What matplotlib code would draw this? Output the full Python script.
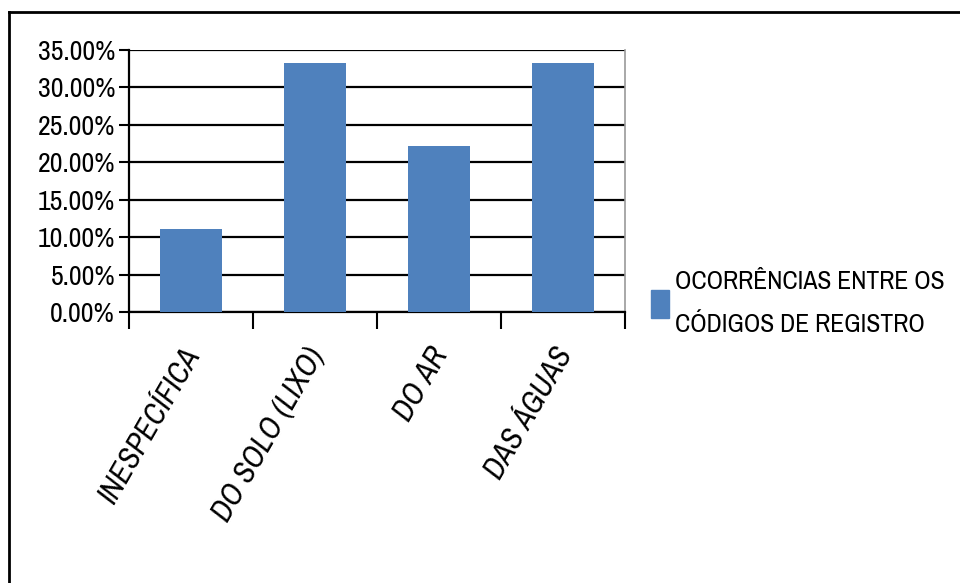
import matplotlib.pyplot as plt
import matplotlib.font_manager as fm
import matplotlib.transforms as mtransforms
from matplotlib.lines import Line2D
from matplotlib.patches import Patch

categories = ["INESPECÍFICA", "DO SOLO (LIXO)", "DO AR", "DAS ÁGUAS"]
values = [11.11, 33.33, 22.22, 33.33]
y_ticks = [0, 5, 10, 15, 20, 25, 30, 35]
series_name = "OCORRÊNCIAS ENTRE OS\nCÓDIGOS DE REGISTRO"

# look for a condensed face, the original uses a narrow font
narrow = sorted({f.name for f in fm.fontManager.ttflist
                 if str(f.stretch) in ("condensed", "semi-condensed", "extra-condensed")
                 or "Narrow" in f.name or "Condensed" in f.name})
stretch = "condensed" if narrow else "normal"
plt.rcParams["font.family"] = narrow + ["Roboto", "DejaVu Sans"]
plt.rcParams["font.stretch"] = stretch

bar_color = "#4F81BD"

fig = plt.figure(figsize=(9.6, 5.83), dpi=100)
ax = fig.add_axes([129 / 960, 1 - 312 / 583, 496 / 960, 262 / 583])

x = [i + 0.5 for i in range(len(categories))]
ax.bar(x, values, width=0.5, color=bar_color, zorder=3, label=series_name)

ax.set_xlim(0, len(categories))
ax.set_ylim(0, 35)
ax.set_yticks(y_ticks)
ax.set_yticklabels([f"{v:.2f}%" for v in y_ticks], fontsize=20)
ax.yaxis.grid(True, color="black", linewidth=1.6, zorder=0)
ax.set_axisbelow(True)

# tick marks at category boundaries, labels in the middle
ax.set_xticks(range(len(categories) + 1))
ax.set_xticklabels([])
ax.set_xticks(x, minor=True)
ax.set_xticklabels(categories, minor=True, rotation=60, ha="right",
                   rotation_mode="anchor", fontsize=22, style="italic")
ax.tick_params(axis="x", which="major", length=12, width=1.5, direction="out")
ax.tick_params(axis="x", which="minor", length=0, pad=22)
ax.tick_params(axis="y", length=7, width=1.5, pad=3)

shift = mtransforms.ScaledTranslation(-10 / 100, 0, fig.dpi_scale_trans)
for lbl in ax.get_xticklabels(minor=True):
    lbl.set_transform(lbl.get_transform() + shift)

for s in ["left", "bottom"]:
    ax.spines[s].set_color("black")
    ax.spines[s].set_linewidth(1.6)
ax.spines["top"].set_visible(False)
ax.spines["right"].set_color("#999999")
ax.spines["right"].set_linewidth(1.2)

handle = Patch(facecolor=bar_color, edgecolor=bar_color)
leg = ax.legend([handle], [series_name], loc="center left",
                bbox_to_anchor=(651 / 960, 1 - 303 / 583), bbox_transform=fig.transFigure,
                frameon=False, fontsize=18.5 if narrow else 15, handlelength=0.7,
                handleheight=1.35, handletextpad=0.25, borderpad=0, borderaxespad=0)
for t in leg.get_texts():
    t.set_linespacing(2.1)

# outer frame (left and top edges of the original picture)
fig.add_artist(Line2D([9 / 960, 9 / 960], [0, 1 - 12 / 583],
                      transform=fig.transFigure, color="black", linewidth=2))
fig.add_artist(Line2D([9 / 960, 1], [1 - 12 / 583, 1 - 12 / 583],
                      transform=fig.transFigure, color="black", linewidth=2))

fig.savefig("out.png", dpi=100)
